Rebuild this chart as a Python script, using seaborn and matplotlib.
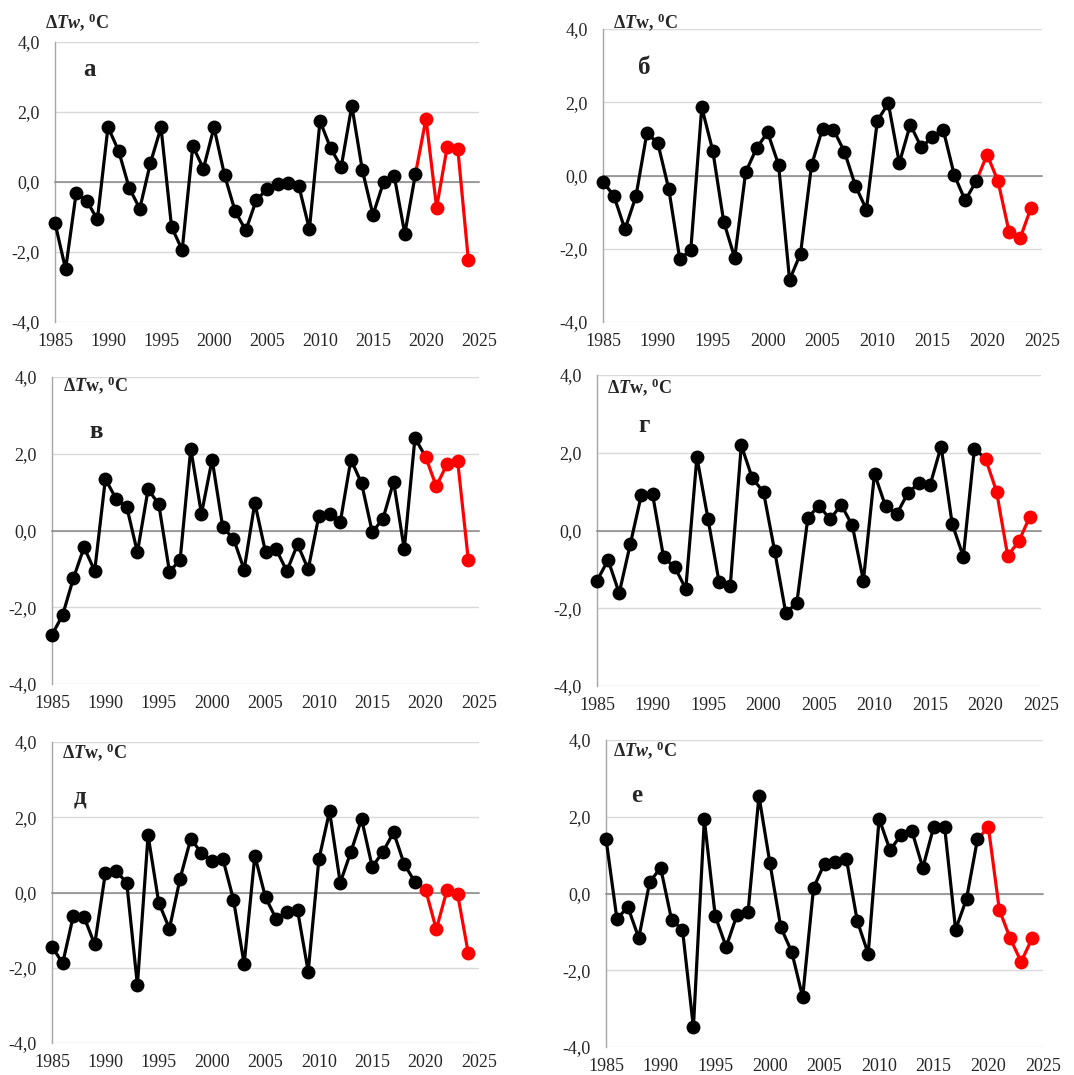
import matplotlib
matplotlib.use("Agg")
import matplotlib.pyplot as plt
import seaborn as sns
import pandas as pd

# ---- data: water temperature anomaly, 1985-2024 (2020+ in red) ----
years = list(range(1985, 2025))

dtw_a = [-1.17, -2.49, -0.31, -0.54, -1.07, 1.57, 0.89, -0.17, -0.76, 0.54,
         1.56, -1.29, -1.94, 1.03, 0.38, 1.56, 0.19, -0.84, -1.38, -0.51,
         -0.21, -0.07, -0.04, -0.11, -1.35, 1.74, 0.97, 0.43, 2.18, 0.33,
         -0.94, 0.00, 0.18, -1.48, 0.22, 1.81, -0.73, 1.00, 0.94, -2.24]
dtw_b = [-0.17, -0.56, -1.47, -0.57, 1.16, 0.88, -0.38, -2.29, -2.03, 1.86,
         0.68, -1.26, -2.25, 0.09, 0.75, 1.18, 0.29, -2.85, -2.13, 0.28,
         1.28, 1.25, 0.65, -0.28, -0.93, 1.50, 1.97, 0.34, 1.39, 0.77,
         1.04, 1.25, 0.02, -0.68, -0.16, 0.57, -0.16, -1.54, -1.72, -0.88]
dtw_v = [-2.72, -2.20, -1.25, -0.44, -1.05, 1.34, 0.83, 0.62, -0.57, 1.07,
         0.69, -1.07, -0.77, 2.13, 0.43, 1.85, 0.08, -0.21, -1.02, 0.72,
         -0.56, -0.49, -1.06, -0.36, -1.01, 0.38, 0.42, 0.21, 1.85, 1.23,
         -0.04, 0.30, 1.27, -0.49, 2.41, 1.92, 1.15, 1.73, 1.81, -0.77]
dtw_g = [-1.29, -0.76, -1.61, -0.35, 0.92, 0.94, -0.69, -0.94, -1.50, 1.89,
         0.30, -1.33, -1.44, 2.19, 1.34, 0.99, -0.52, -2.11, -1.87, 0.33,
         0.64, 0.29, 0.66, 0.13, -1.29, 1.46, 0.62, 0.42, 0.96, 1.22,
         1.16, 2.16, 0.17, -0.67, 2.10, 1.85, 1.00, -0.65, -0.28, 0.36]
dtw_d = [-1.44, -1.88, -0.62, -0.65, -1.38, 0.52, 0.57, 0.26, -2.46, 1.52,
         -0.27, -0.96, 0.37, 1.43, 1.05, 0.83, 0.90, -0.19, -1.90, 0.98,
         -0.13, -0.70, -0.51, -0.47, -2.10, 0.88, 2.16, 0.26, 1.08, 1.95,
         0.68, 1.08, 1.60, 0.75, 0.28, 0.07, -0.98, 0.06, -0.05, -1.62]
dtw_e = [1.43, -0.66, -0.35, -1.16, 0.30, 0.67, -0.68, -0.94, -3.49, 1.93,
         -0.59, -1.39, -0.55, -0.49, 2.54, 0.80, -0.88, -1.52, -2.70, 0.15,
         0.78, 0.83, 0.91, -0.72, -1.57, 1.95, 1.13, 1.52, 1.63, 0.67,
         1.74, 1.72, -0.94, -0.14, 1.41, 1.73, -0.42, -1.17, -1.78, -1.17]

panel_values = [dtw_a, dtw_b, dtw_v, dtw_g, dtw_d, dtw_e]
panel_letters = ["а", "б", "в", "г", "д", "е"]
ylabels = [r"Δ$\mathit{Tw}$, $^{\mathbf{0}}$C", r"Δ$\mathit{T}$w, $^{\mathbf{0}}$C",
           r"Δ$\mathit{T}$w, $^{\mathbf{0}}$C", r"Δ$\mathit{T}$w, $^{\mathbf{0}}$C",
           r"Δ$\mathit{T}$w, $^{\mathbf{0}}$C", r"Δ$\mathit{Tw}$, $^{\mathbf{0}}$C"]
link_years = [2019, 2019, 2020, 2020, 2020, 2019]  # where black line hands over to red

y_ticks = [-4, -2, 0, 2, 4]
y_tick_labels = ["-4,0", "-2,0", "0,0", "2,0", "4,0"]
x_ticks = [1985, 1990, 1995, 2000, 2005, 2010, 2015, 2020, 2025]
first_red = 2020

# ---- layout (pixels in a 1074x1075 canvas) ----
W, H = 1074, 1075
# left, right, top, bottom of each plot area
boxes = [(55, 479, 42, 322), (603, 1042, 29, 322),
         (52, 479, 377, 684), (597, 1041, 375, 686),
         (52, 479, 742, 1043), (606, 1043, 740, 1047)]
letter_pos = [(90, 70), (644, 68), (96, 431), (644, 426), (80, 797), (637, 795)]
ylabel_pos = [(45, 22), (613, 22), (63, 385), (607, 387), (62, 752), (613, 750)]

sns.set_style("white")
plt.rcParams["font.family"] = ["Liberation Serif", "DejaVu Serif"]
plt.rcParams["mathtext.fontset"] = "custom"
plt.rcParams["mathtext.rm"] = "Liberation Serif:bold"
plt.rcParams["mathtext.bf"] = "Liberation Serif:bold"
plt.rcParams["mathtext.it"] = "Liberation Serif:italic:bold"

fig = plt.figure(figsize=(W / 100, H / 100), dpi=100)

for i, vals in enumerate(panel_values):
    l, r, t, b = boxes[i]
    ax = fig.add_axes([l / W, 1 - b / H, (r - l) / W, (b - t) / H])

    df = pd.DataFrame({"year": years, "dtw": vals})
    link = link_years[i]
    black_line = df[df["year"] <= link]
    red_line = df[df["year"] >= link]
    obs = df[df["year"] < first_red]
    fc = df[df["year"] >= first_red]

    sns.lineplot(data=black_line, x="year", y="dtw", color="black", lw=2.3,
                 estimator=None, ax=ax, zorder=3, clip_on=False)
    sns.lineplot(data=red_line, x="year", y="dtw", color="red", lw=2.3,
                 estimator=None, ax=ax, zorder=3, clip_on=False)
    sns.scatterplot(data=obs, x="year", y="dtw", color="black", s=100,
                    linewidth=0, ax=ax, zorder=4, clip_on=False)
    sns.scatterplot(data=fc, x="year", y="dtw", color="red", s=100,
                    linewidth=0, ax=ax, zorder=5, clip_on=False)

    ax.set_xlim(1985, 2025)
    ax.set_ylim(-4, 4)
    ax.set_xlabel("")
    ax.set_ylabel("")
    ax.set_yticks(y_ticks, y_tick_labels)
    ax.yaxis.grid(True, color="#d9d9d9", lw=1)
    ax.xaxis.grid(False)
    ax.set_axisbelow(True)
    for s in ["top", "right"]:
        ax.spines[s].set_visible(False)
    ax.spines["left"].set_color("#a6a6a6")
    ax.spines["left"].set_linewidth(1)

    # axis line crossing at zero with small ticks
    ax.spines["bottom"].set_position(("data", 0))
    ax.spines["bottom"].set_color("#868686")
    ax.spines["bottom"].set_linewidth(1.1)
    ax.set_xticks(x_ticks)
    ax.tick_params(axis="x", length=5, width=1, color="#868686",
                   direction="out", labelbottom=False)
    ax.tick_params(axis="y", length=0, pad=11, labelsize=13)

    # year labels at the bottom of the plot area
    sec = ax.secondary_xaxis("bottom")
    sec.set_xticks(x_ticks)
    sec.spines["bottom"].set_visible(False)
    sec.tick_params(length=0, pad=8, labelsize=13)

    lx, ly = letter_pos[i]
    fig.text(lx / W, 1 - ly / H, panel_letters[i], fontsize=18,
             fontweight="bold", ha="center", va="center")
    tx, ty = ylabel_pos[i]
    fig.text(tx / W, 1 - ty / H, ylabels[i], fontsize=13,
             fontweight="bold", ha="left", va="center")

fig.savefig("out.png", dpi=100)
